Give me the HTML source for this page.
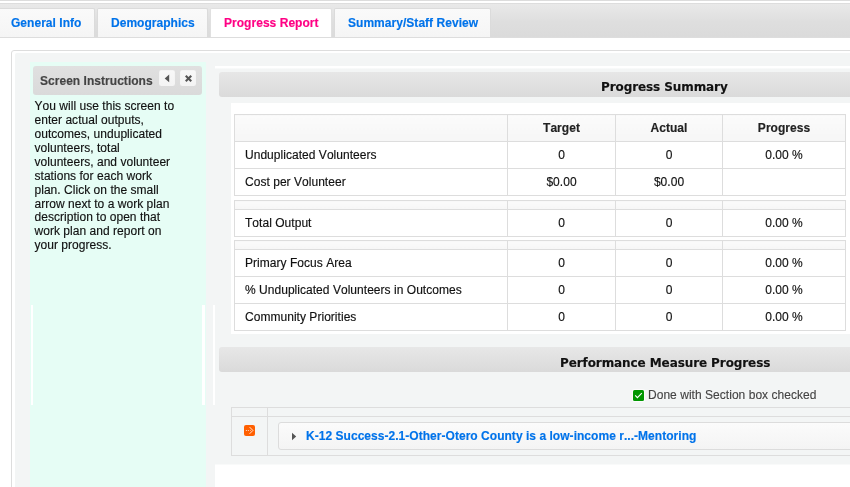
<!DOCTYPE html>
<html>
<head>
<meta charset="utf-8">
<title>Progress Report</title>
<style>
html,body{margin:0;padding:0;background:#fff;}
body{width:850px;height:487px;overflow:hidden;position:relative;font-family:"Liberation Sans",sans-serif;font-size:12px;color:#000;letter-spacing:0.035px;font-kerning:none;-webkit-text-stroke:0.15px currentColor;}
.abs{position:absolute;}
#wrap{position:absolute;left:0;top:0;width:850px;height:487px;overflow:hidden;will-change:transform;}
#topline{left:0;top:0;width:850px;height:1px;background:#dcdcdc;}
#tabbar{left:-2px;top:3px;width:860px;height:33px;border:1px solid #ddd;background:linear-gradient(#e9e9e9 0%,#dedede 55%,#dbdbdb 100%);}
.tab{position:absolute;top:8px;height:29px;box-sizing:border-box;border:1px solid #dbdbdb;border-bottom:0;border-radius:2px 2px 0 0;background:linear-gradient(#fafafa,#f5f5f5);color:#0073ea;font-weight:bold;font-size:12px;line-height:14px;padding:7px 0 0 12px;white-space:nowrap;}
.tab.active{background:#fff;color:#ff0084;border-color:#e0e0e0;}
#panel{left:11px;top:50px;width:900px;height:500px;border:1px solid #ddd;background:#fff;border-radius:3px;}
#panelbg{left:15px;top:53px;width:900px;height:500px;background:#f3f5f5;border-radius:2px;}
#mint{left:30px;top:62px;width:176px;height:440px;background:#e6fdf5;}
#sidehead{left:33px;top:66px;width:169px;height:28.5px;border-radius:3px;background:linear-gradient(#e0e0e0,#dadada);}
#sidehead span{position:absolute;left:7px;top:8px;font-weight:bold;color:#444;line-height:14px;white-space:nowrap;}
.btn{position:absolute;top:70px;width:16px;height:16px;box-sizing:border-box;border:1px solid #f4f4f4;border-radius:1.5px;background:linear-gradient(#f8f8f8,#f4f4f4);}
#instr{left:34.5px;top:99px;line-height:14px;font-size:12px;color:#111;white-space:nowrap;}
.bar{position:absolute;left:219px;width:700px;height:25px;border-radius:3px;background:linear-gradient(#e7e7e7,#dadada);}
.bartitle{position:absolute;font-family:"DejaVu Sans",sans-serif;font-weight:bold;font-size:12px;color:#111;white-space:nowrap;line-height:14px;letter-spacing:-0.09px;}
#whiteline{left:215px;top:66px;width:700px;height:3px;background:linear-gradient(#fff 0,#fff 2px,rgba(255,255,255,0.45) 2px,rgba(255,255,255,0.45) 3px);}
#content{left:231px;top:103px;width:700px;height:231px;background:#fff;}
table.g{position:absolute;left:234px;border-collapse:collapse;table-layout:fixed;width:612px;font-size:12px;}
table.g td,table.g th{border:1px solid #dddddd;padding:0;height:26px;box-sizing:content-box;text-align:center;vertical-align:middle;line-height:14px;color:#111;}
table.g th{background:linear-gradient(#fbfbfb,#f6f6f6);font-weight:bold;color:#222;}
table.g td.l{text-align:left;padding-left:10px;}
table.g tr.e th{height:8px;line-height:0;font-size:0;}
.vline{position:absolute;background:#fff;top:305px;height:100px;}
</style>
</head>
<body>
<div id="wrap">
<div class="abs" id="topline"></div>
<div class="abs" id="tabbar"></div>
<div class="tab" style="left:-2px;width:97px;">General Info</div>
<div class="tab" style="left:97px;width:111px;padding-left:13px;">Demographics</div>
<div class="tab active" style="left:210px;width:122px;padding-left:13px;">Progress Report</div>
<div class="tab" style="left:334px;width:157px;padding-left:13px;">Summary/Staff Review</div>

<div class="abs" id="panel"></div>
<div class="abs" id="panelbg"></div>
<div class="abs" id="mint"></div>
<div class="abs" id="sidehead"><span>Screen Instructions</span></div>
<div class="btn" style="left:159px;"><svg width="16" height="16" viewBox="0 0 16 16" style="position:absolute;left:-1px;top:-1px"><path d="M10.2 4.6 L10.2 12.2 L5.7 8.4 Z" fill="#555"/></svg></div>
<div class="btn" style="left:180px;"><svg width="16" height="16" viewBox="0 0 16 16" style="position:absolute;left:-1px;top:-1px"><path d="M6.5 6.5 L10.5 10.5 M10.5 6.5 L6.5 10.5" stroke="#555" stroke-width="2.1" stroke-linecap="square" fill="none"/></svg></div>
<div class="abs" id="instr">You will use this screen to<br>enter actual outputs,<br>outcomes, unduplicated<br>volunteers, total<br>volunteers, and volunteer<br>stations for each work<br>plan. Click on the small<br>arrow next to a work plan<div style="margin-top:-1px">description to open that<br>work plan and report on<br>your progress.</div></div>

<div class="abs" id="whiteline"></div>
<div class="bar" style="top:72px;"></div>
<div class="bartitle" style="left:601px;top:80px;">Progress Summary</div>
<div class="abs" id="content"></div>

<table class="g" style="top:114px;">
<colgroup><col style="width:273px"><col style="width:108px"><col style="width:107px"><col style="width:123px"></colgroup>
<tr><th></th><th>Target</th><th>Actual</th><th>Progress</th></tr>
<tr><td class="l">Unduplicated Volunteers</td><td>0</td><td>0</td><td>0.00 %</td></tr>
<tr><td class="l">Cost per Volunteer</td><td>$0.00</td><td>$0.00</td><td></td></tr>
</table>
<table class="g" style="top:200px;">
<colgroup><col style="width:273px"><col style="width:108px"><col style="width:107px"><col style="width:123px"></colgroup>
<tr class="e"><th></th><th></th><th></th><th></th></tr>
<tr><td class="l">Total Output</td><td>0</td><td>0</td><td>0.00 %</td></tr>
</table>
<table class="g" style="top:240px;">
<colgroup><col style="width:273px"><col style="width:108px"><col style="width:107px"><col style="width:123px"></colgroup>
<tr class="e"><th></th><th></th><th></th><th></th></tr>
<tr><td class="l">Primary Focus Area</td><td>0</td><td>0</td><td>0.00 %</td></tr>
<tr><td class="l">% Unduplicated Volunteers in Outcomes</td><td>0</td><td>0</td><td>0.00 %</td></tr>
<tr><td class="l">Community Priorities</td><td>0</td><td>0</td><td>0.00 %</td></tr>
</table>

<div class="bar" style="top:347px;"></div>
<div class="bartitle" style="left:560px;top:356px;">Performance Measure Progress</div>

<div class="abs" style="left:633px;top:390px;width:11px;height:11px;border-radius:1.5px;background:#009600;box-shadow:0 0 1px 1px rgba(255,255,255,0.8);"><svg width="11" height="11" viewBox="0 0 11 11" style="position:absolute;left:0;top:0"><path d="M2.2 5.3 L4.4 7.6 L8.8 3.2" stroke="#fff" stroke-width="1.1" fill="none"/></svg></div>
<div class="abs" style="left:648px;top:388px;line-height:14px;color:#444;white-space:nowrap;text-shadow:0 0 2px #fff,0 0 1px #fff;">Done with Section box checked</div>

<div class="abs" style="left:231px;top:407px;width:700px;height:47px;border:1px solid #dddddd;"></div>
<div class="abs" style="left:232px;top:416px;width:700px;height:1px;background:#dddddd;"></div>
<div class="abs" style="left:267px;top:408px;width:1px;height:47px;background:#dddddd;"></div>
<div class="abs" style="left:244px;top:425px;width:11px;height:11px;border-radius:2px;background:#ff5f00;"><svg width="11" height="11" viewBox="0 0 11 11" style="position:absolute;left:0;top:0"><path d="M5.6 2.1 L8.9 5.45 L5.6 8.8" stroke="#fff" stroke-width="0.85" fill="none"/><rect x="1.9" y="5" width="0.9" height="0.9" fill="#fff" opacity="0.95"/><rect x="3.9" y="5" width="0.9" height="0.9" fill="#fff" opacity="0.95"/><rect x="6" y="5" width="0.9" height="0.9" fill="#fff" opacity="0.6"/></svg></div>
<div class="abs" style="left:278px;top:422px;width:700px;height:26px;border:1px solid #dcdcdc;border-radius:3px;background:linear-gradient(#fbfbfb,#f4f4f4);"></div>
<svg class="abs" style="left:291px;top:432px;" width="6" height="9" viewBox="0 0 6 9"><path d="M1 0.8 L5.2 4.5 L1 8.2 Z" fill="#555"/></svg>
<div class="abs" style="left:306px;top:429px;line-height:14px;font-weight:bold;color:#0073ea;white-space:nowrap;">K-12 Success-2.1-Other-Otero County is a low-income r...-Mentoring</div>

<div class="abs" style="left:215px;top:464px;width:700px;height:40px;background:linear-gradient(rgba(255,255,255,0.5) 0,rgba(255,255,255,0.5) 1px,#fff 1px,#fff 100%);"></div>
<div class="vline" style="left:31px;width:2px;"></div>
<div class="vline" style="left:202px;width:3px;"></div>
<div class="vline" style="left:213px;width:2px;"></div>
</div>
</body>
</html>
